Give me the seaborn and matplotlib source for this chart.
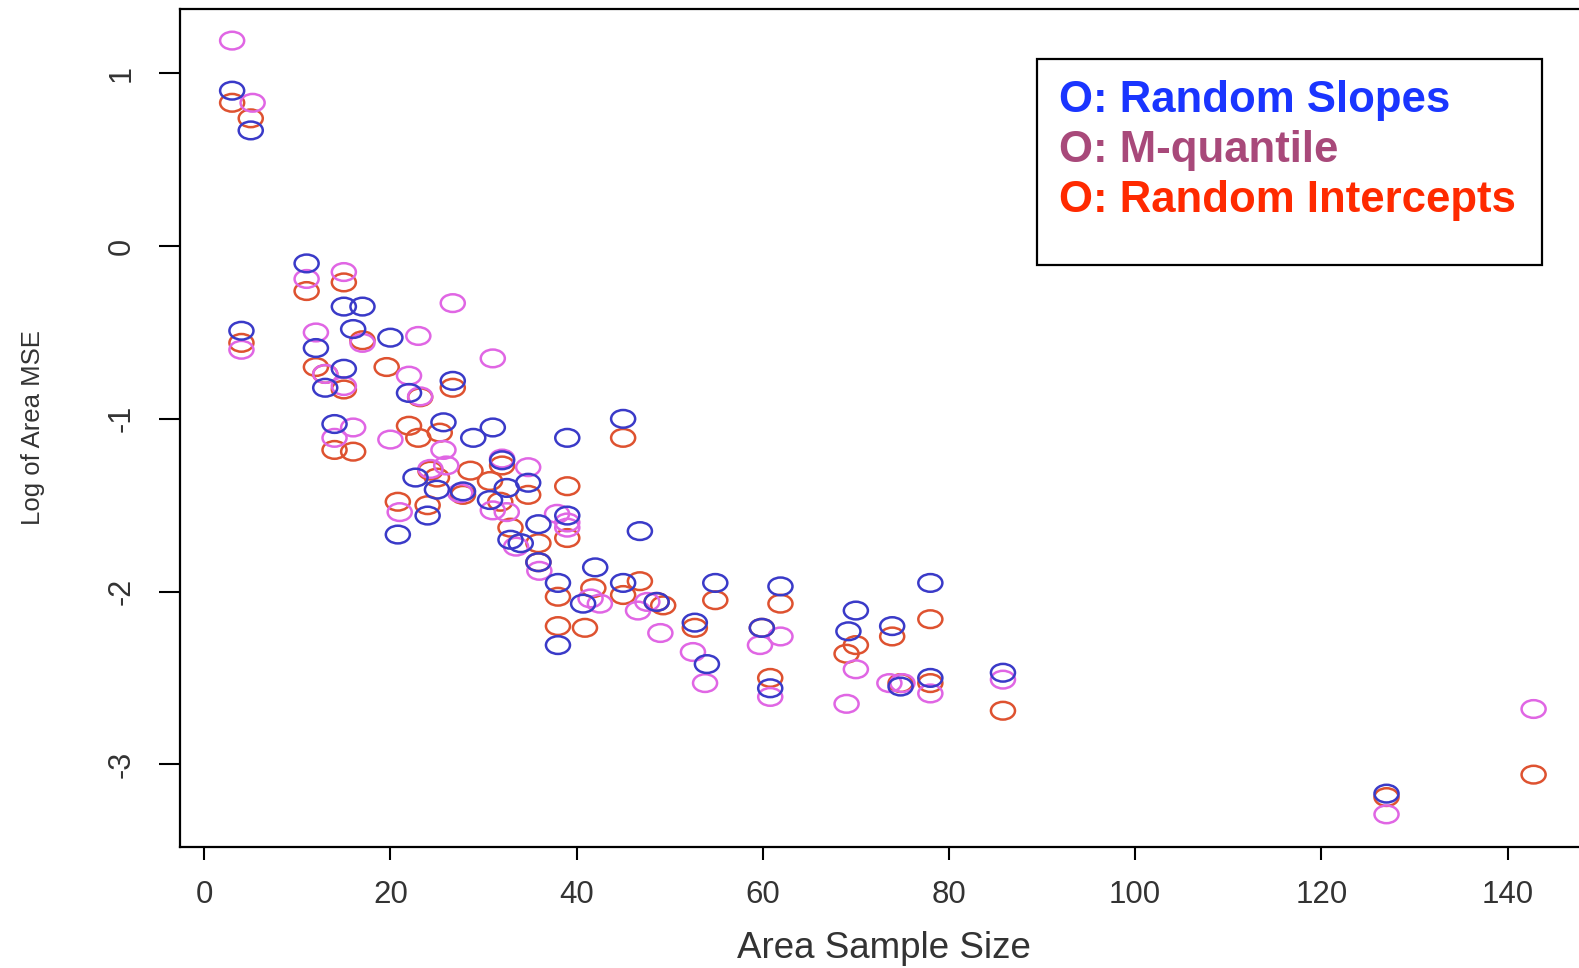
import numpy as np
import pandas as pd
import matplotlib
matplotlib.use("Agg")
import matplotlib.pyplot as plt
from matplotlib import font_manager
from matplotlib.path import Path
from matplotlib.markers import MarkerStyle
from matplotlib.transforms import Affine2D
from matplotlib.patches import Rectangle
import seaborn as sns

# ---------------- data ----------------
slopes_x = [3, 4, 5, 11, 12, 13, 14, 15, 15, 16, 17, 20, 20.8, 22, 22.7, 24, 25, 25.7,
            26.7, 27.8, 28.9, 30.7, 31, 32, 32.5, 32.9, 34, 34.8, 35.9, 35.9, 38, 38,
            39, 39, 40.7, 42, 45, 45, 46.8, 48.6, 52.7, 54, 54.9, 59.9, 60.8, 61.9,
            69.2, 70, 73.9, 74.8, 78, 78, 85.8, 127]
slopes_y = [0.90, -0.49, 0.67, -0.10, -0.59, -0.82, -1.03, -0.35, -0.71, -0.48, -0.35,
            -0.53, -1.67, -0.85, -1.34, -1.56, -1.41, -1.02, -0.78, -1.42, -1.11, -1.47,
            -1.05, -1.24, -1.40, -1.70, -1.72, -1.37, -1.61, -1.83, -1.95, -2.31, -1.11,
            -1.56, -2.07, -1.86, -1.00, -1.95, -1.65, -2.06, -2.18, -2.42, -1.95, -2.21,
            -2.56, -1.97, -2.23, -2.11, -2.20, -2.55, -1.95, -2.50, -2.47, -3.17]

mq_x = [3, 4, 5.2, 11, 12, 13, 14, 15, 15, 16, 17, 20, 21, 22, 23, 23.2, 24.3, 25.7,
        26, 26.7, 27.5, 31, 31, 32, 32.5, 33.5, 34.8, 36, 37.9, 39, 39, 41.5, 42.5,
        46.6, 47.6, 49, 52.5, 53.8, 59.7, 60.8, 61.9, 69, 70, 73.6, 75, 78, 85.8,
        127, 142.8]
mq_y = [1.19, -0.60, 0.83, -0.19, -0.50, -0.74, -1.11, -0.15, -0.81, -1.05, -0.56,
        -1.12, -1.54, -0.75, -0.52, -0.87, -1.29, -1.18, -1.27, -0.33, -1.43, -0.65,
        -1.53, -1.23, -1.54, -1.74, -1.28, -1.88, -1.55, -1.60, -1.63, -2.04, -2.07,
        -2.11, -2.06, -2.24, -2.35, -2.53, -2.31, -2.61, -2.26, -2.65, -2.45, -2.53,
        -2.53, -2.59, -2.51, -3.29, -2.68]

ri_x = [3, 4, 5, 11, 12, 13, 14, 15, 15, 16, 17, 19.6, 20.8, 22, 23, 23.2, 24, 24.3,
        25, 25.3, 26.7, 27.8, 28.6, 30.7, 31.8, 32, 32.9, 34.8, 35.9, 35.9, 38, 38,
        39, 39, 40.9, 41.8, 45, 45, 46.8, 48.6, 49.3, 52.7, 54.9, 59.9, 60.8, 61.9,
        69, 70, 73.9, 74.8, 78, 78, 85.8, 127, 142.8]
ri_y = [0.83, -0.56, 0.74, -0.26, -0.70, -0.74, -1.18, -0.21, -0.83, -1.19, -0.545,
        -0.70, -1.48, -1.04, -1.11, -0.875, -1.50, -1.30, -1.34, -1.08, -0.82, -1.44,
        -1.30, -1.36, -1.48, -1.27, -1.63, -1.44, -1.72, -1.83, -2.03, -2.20, -1.39,
        -1.69, -2.21, -1.98, -1.11, -2.02, -1.94, -2.06, -2.08, -2.21, -2.05, -2.21,
        -2.50, -2.07, -2.36, -2.31, -2.26, -2.53, -2.16, -2.53, -2.69, -3.19, -3.06]

series_names = ["Random Intercepts", "M-quantile", "Random Slopes"]
legend_labels = ["O: Random Slopes", "O: M-quantile", "O: Random Intercepts"]
x_ticks = [0, 20, 40, 60, 80, 100, 120, 140]
y_ticks = [-3, -2, -1, 0, 1]

# ---------------- build long-form table ----------------
df = pd.concat([
    pd.DataFrame({"size": ri_x, "mse": ri_y, "method": series_names[0]}),
    pd.DataFrame({"size": mq_x, "mse": mq_y, "method": series_names[1]}),
    pd.DataFrame({"size": slopes_x, "mse": slopes_y, "method": series_names[2]}),
], ignore_index=True)

point_colors = {"Random Slopes": "#3a3ac8", "M-quantile": "#e066e4", "Random Intercepts": "#de5230"}
legend_colors = ["#1a35ff", "#a8497a", "#ff2a00"]

sns.set_style("white")
names = {f.name for f in font_manager.fontManager.ttflist}
base_font = "Liberation Sans" if "Liberation Sans" in names else "DejaVu Sans"
plt.rcParams["font.family"] = [base_font, "DejaVu Sans"]

W, H = 1579, 968
fig = plt.figure(figsize=(W / 100, H / 100), dpi=100)
fig.patch.set_facecolor("white")

# axes box in pixels: left 180, right 1587.6 (beyond image), top 9, bottom 847
ax = fig.add_axes([180 / W, (H - 847) / H, (1587.6 - 180) / W, (847 - 9) / H])
ax.set_facecolor("white")

# open circle marker, horizontally stretched like the original
ell = Path.unit_circle().transformed(Affine2D().scale(1.36, 1.0))
mk = MarkerStyle(ell)

sns.scatterplot(data=df, x="size", y="mse", hue="method", palette=point_colors,
                marker=mk, s=300, legend=False, ax=ax, linewidth=0)
for coll in ax.collections:
    fc = coll.get_facecolors()
    coll.set_edgecolors(fc)
    coll.set_facecolors("none")
    coll.set_linewidths(1.8)

ax.set_xlim(-2.6, 148.6)
ax.set_ylim(-3.479, 1.373)
ax.set_xticks(x_ticks)
ax.set_xticklabels([str(v) for v in x_ticks])
ax.set_yticks(y_ticks)
ax.set_yticklabels([str(v) for v in y_ticks])

for sp in ax.spines.values():
    sp.set_color("black")
    sp.set_linewidth(1.6)

ax.tick_params(axis="x", direction="out", length=9.5, width=1.5, pad=14,
               labelsize=22.5, labelcolor="#333333", color="black", bottom=True)
ax.tick_params(axis="y", direction="out", length=15, width=1.5, pad=16,
               labelsize=22, labelcolor="#333333", color="black", left=True,
               labelrotation=90)
for lab in ax.get_yticklabels():
    lab.set_va("center")

ax.set_xlabel("Area Sample Size", fontsize=26.5, color="#333333")
ax.xaxis.set_label_coords(0.5, (847 - 948.6) / 838)
ax.xaxis.label.set_va("center")

ax.set_ylabel("Log of Area MSE", fontsize=18.5, color="#333333")
ax.yaxis.set_label_coords((33 - 180) / 1407.6, (847 - 428) / 838)
ax.yaxis.label.set_va("center")
ax.yaxis.label.set_ha("center")

# legend box (text-only legend drawn as in the original)
fig.patches.append(Rectangle((1037 / W, (H - 265) / H), 505 / W, 206 / H,
                             transform=fig.transFigure, facecolor="white",
                             edgecolor="black", linewidth=1.6, zorder=5))
baselines = [111.7, 162.3, 211.7]
for lab, col, bl in zip(legend_labels, legend_colors, baselines):
    fig.text(1059 / W, (H - bl) / H, lab, color=col, fontsize=31.5,
             fontweight="bold", ha="left", va="baseline", zorder=6)

fig.savefig("out.png", dpi=100, facecolor="white")
